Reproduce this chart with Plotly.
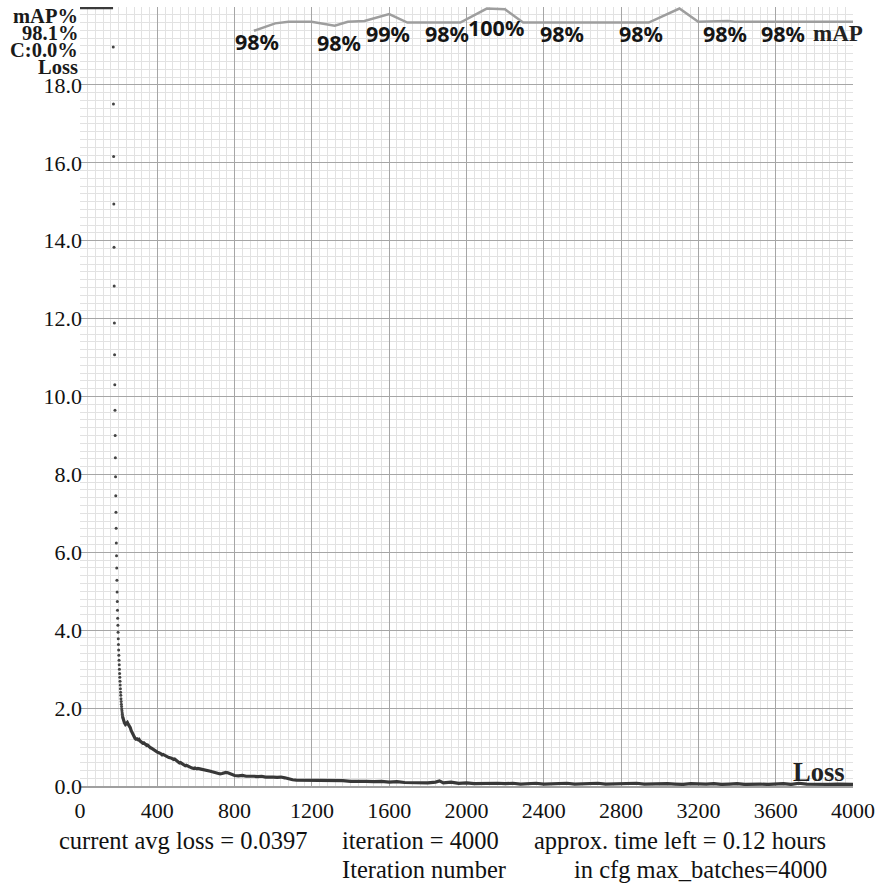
import plotly.graph_objects as go

# ---------------- data ----------------
x_tick_values = [0, 400, 800, 1200, 1600, 2000, 2400, 2800, 3200, 3600, 4000]
x_tick_labels = ["0", "400", "800", "1200", "1600", "2000", "2400", "2800", "3200", "3600", "4000"]
y_tick_values = [0, 2, 4, 6, 8, 10, 12, 14, 16, 18]
y_tick_labels = ["0.0", "2.0", "4.0", "6.0", "8.0", "10.0", "12.0", "14.0", "16.0", "18.0"]

# loss above the top of the chart (clipped at the top edge)
overflow_iters = [0, 171]
overflow_loss = [19.98, 19.98]

# one dot per iteration during the steep drop
dot_start_iter = 172
dot_loss = [18.97, 17.51, 16.16, 14.94, 13.83, 12.84, 11.89, 11.07, 10.30, 9.65,
            9.00, 8.43, 7.94, 7.45, 7.03, 6.62, 6.24, 5.91, 5.60, 5.28,
            4.98, 4.74, 4.51, 4.31, 4.13, 3.95, 3.78, 3.63, 3.49, 3.36,
            3.23, 3.11, 3.00, 2.89, 2.79, 2.69, 2.59, 2.50, 2.41, 2.33,
            2.24, 2.17, 2.10, 2.04, 1.98, 1.93, 1.88, 1.84, 1.80, 1.77]

tail_iters = [222, 226, 230, 235, 240, 245, 250, 255, 260, 265, 270, 275, 280, 285, 290, 295,
              300, 305, 310, 315, 320, 325, 330, 335, 340, 345, 350, 355, 360, 365, 370, 375,
              380, 385, 390, 395, 400, 405, 410, 415, 420, 425, 430, 440, 450, 455, 460, 470,
              475, 485, 490, 500, 505, 515, 520, 530, 535, 545, 550, 560, 565, 575, 580, 590,
              595, 605, 610, 620, 630, 635, 645, 650, 660, 665, 675, 680, 690, 695, 705, 710,
              720, 725, 735, 740, 750, 755, 765, 770, 780, 785, 795, 800,
              820, 840, 860, 880, 900, 920, 940, 960, 980, 1000, 1020, 1040, 1060, 1080, 1100,
              1120, 1140, 1160, 1180, 1200, 1240, 1280, 1320, 1360, 1400, 1440, 1480, 1520,
              1560, 1600, 1640, 1680, 1720, 1760, 1800, 1840, 1860, 1880, 1920, 1960, 2000,
              2040, 2080, 2120, 2160, 2200, 2240, 2280, 2320, 2360, 2400, 2440, 2480, 2520,
              2560, 2600, 2640, 2680, 2720, 2760, 2800, 2840, 2880, 2920, 2960, 3000, 3040,
              3080, 3120, 3160, 3200, 3240, 3280, 3320, 3360, 3400, 3440, 3480, 3520, 3560,
              3600, 3640, 3680, 3720, 3760, 3800, 3840, 3880, 3920, 3960, 4000]
tail_loss = [1.75, 1.68, 1.62, 1.58, 1.61, 1.63, 1.58, 1.55, 1.50, 1.42, 1.36, 1.30, 1.25, 1.22, 1.20, 1.21,
             1.19, 1.20, 1.16, 1.14, 1.12, 1.10, 1.11, 1.08, 1.06, 1.04, 1.05, 1.02, 1.00, 0.98, 0.97, 0.95,
             0.94, 0.93, 0.91, 0.88, 0.87, 0.86, 0.86, 0.84, 0.82, 0.80, 0.81, 0.78, 0.75, 0.73, 0.73, 0.72,
             0.70, 0.68, 0.69, 0.64, 0.63, 0.59, 0.60, 0.56, 0.55, 0.52, 0.53, 0.50, 0.49, 0.47, 0.46, 0.45,
             0.46, 0.44, 0.45, 0.44, 0.43, 0.42, 0.43, 0.41, 0.40, 0.39, 0.38, 0.37, 0.36, 0.35, 0.33, 0.32,
             0.31, 0.31, 0.32, 0.33, 0.35, 0.35, 0.34, 0.33, 0.30, 0.29, 0.28, 0.27,
             0.26, 0.27, 0.25, 0.26, 0.25, 0.24, 0.25, 0.23, 0.24, 0.23, 0.22, 0.23, 0.21, 0.18, 0.16,
             0.15, 0.15, 0.14, 0.15, 0.14, 0.13, 0.14, 0.13, 0.14, 0.12, 0.13, 0.12, 0.11,
             0.12, 0.10, 0.11, 0.09, 0.09, 0.07, 0.08, 0.10, 0.13, 0.08, 0.10, 0.07, 0.08,
             0.06, 0.07, 0.06, 0.07, 0.06, 0.07, 0.05, 0.06, 0.07, 0.05, 0.06, 0.05, 0.07,
             0.05, 0.06, 0.05, 0.07, 0.05, 0.06, 0.05, 0.06, 0.07, 0.05, 0.06, 0.05, 0.06,
             0.05, 0.04, 0.06, 0.05, 0.05, 0.06, 0.04, 0.05, 0.06, 0.04, 0.05, 0.05, 0.04,
             0.05, 0.06, 0.04, 0.07, 0.05, 0.04, 0.05, 0.04, 0.05, 0.04, 0.04]

# mAP (%) curve
map_iters = [900, 1010, 1079, 1198, 1318, 1386, 1472, 1600, 1694, 1968, 2105, 2199, 2293,
             2943, 3102, 3199, 3353, 3388, 4000]
map_values = [96.95, 97.9, 98.1, 98.1, 97.6, 98.1, 98.2, 99.1, 98.0, 98.0, 99.8, 99.7, 98.0,
              98.0, 99.8, 98.1, 98.2, 98.1, 98.1]
map_label_iters = [900, 1325, 1580, 1885, 2105, 2480, 2885, 3320, 3620]
map_label_texts = ["98%", "98%", "99%", "98%", "100%", "98%", "98%", "98%", "98%"]

header_texts = ["mAP%", "98.1%", "C:0.0%", "Loss"]
footer_line1 = ["current avg loss = 0.0397", "iteration = 4000", "approx. time left = 0.12 hours"]
footer_line2 = ["Iteration number", "in cfg max_batches=4000"]

# ---------------- styling / layout helpers ----------------
W, H = 882, 888
ML, MR, MT, MB = 80, 22, 7, 102
PW, PH = W - ML - MR, H - MT - MB


def px_x(px):
    return (px - ML) / PW


def px_y(py):
    return (H - MB - py) / PH


SERIF = "Liberation Serif, Times New Roman, serif"
SANS = "Noto Sans, Open Sans, sans-serif"

fig = go.Figure()

fig.add_trace(go.Scatter(x=overflow_iters, y=overflow_loss, mode="lines",
                         line=dict(color="#3a3a3a", width=3), hoverinfo="skip", showlegend=False))

dot_iters = [dot_start_iter + i for i in range(len(dot_loss))]
fig.add_trace(go.Scatter(x=dot_iters, y=dot_loss, mode="markers",
                         marker=dict(color="#444444", size=3), showlegend=False, name="Loss"))

fig.add_trace(go.Scatter(x=[dot_iters[-1]] + tail_iters, y=[dot_loss[-1]] + tail_loss, mode="lines",
                         line=dict(color="#383838", width=3.2), showlegend=False, name="Loss"))

fig.add_trace(go.Scatter(x=map_iters, y=map_values, mode="lines", yaxis="y2",
                         line=dict(color="#9e9e9e", width=2.5), showlegend=False, name="mAP"))

grid_major = "#a6a6a6"
grid_minor = "#e2e2e2"

fig.update_layout(
    width=W, height=H,
    margin=dict(l=ML, r=MR, t=MT, b=MB, pad=0),
    paper_bgcolor="white", plot_bgcolor="white",
    xaxis=dict(range=[0, 4000], tickvals=x_tick_values, ticktext=x_tick_labels,
               showgrid=True, gridcolor=grid_major, gridwidth=1, zeroline=False,
               showline=True, linecolor="#a0a0a0", linewidth=2, ticks="",
               minor=dict(dtick=40, showgrid=True, gridcolor=grid_minor, gridwidth=1, ticks=""),
               tickfont=dict(family=SERIF, size=22, color="#111111"), ticklabelstandoff=4,
               fixedrange=True),
    yaxis=dict(range=[0, 20], tickvals=y_tick_values, ticktext=y_tick_labels,
               showgrid=True, gridcolor=grid_major, gridwidth=1, zeroline=False,
               showline=False, ticks="",
               minor=dict(dtick=0.2, showgrid=True, gridcolor=grid_minor, gridwidth=1, ticks=""),
               tickfont=dict(family=SERIF, size=22, color="#111111"), ticklabelstandoff=-3,
               fixedrange=True),
    yaxis2=dict(range=[0, 100], overlaying="y", visible=False, fixedrange=True),
)

annotations = []

# mAP labels
map_label_centers = [41.7, 42.5, 34, 34, 27.5, 33.5, 33.5, 33.5, 33.5]
for it, txt, cy in zip(map_label_iters, map_label_texts, map_label_centers):
    annotations.append(dict(x=it, xref="x", y=px_y(cy), yref="paper", text=txt, showarrow=False,
                            xanchor="left", yanchor="middle", xshift=-21,
                            font=dict(family=SANS, size=21.5, color="#151515", weight="bold")))

# right-side series names
annotations.append(dict(x=px_x(818), xref="paper", y=px_y(33.5), yref="paper", text="mAP",
                        showarrow=False, xanchor="left", yanchor="middle",
                        font=dict(family=SERIF, size=23, color="#222222", weight="bold")))
annotations.append(dict(x=px_x(854), xref="paper", y=px_y(772), yref="paper", text="Loss",
                        showarrow=False, xanchor="right", yanchor="middle",
                        font=dict(family=SERIF, size=26.5, color="#222222", weight="bold")))

# header on the left
for txt, cy in zip(header_texts, [16, 33, 50, 67]):
    annotations.append(dict(x=px_x(80), xref="paper", y=px_y(cy), yref="paper", text=txt,
                            showarrow=False, xanchor="right", yanchor="middle",
                            font=dict(family=SERIF, size=20.5, color="#1a1a1a", weight="bold")))

# footer
for txt, lx in zip(footer_line1, [57, 342, 536]):
    annotations.append(dict(x=px_x(lx), xref="paper", y=px_y(841), yref="paper", text=txt,
                            showarrow=False, xanchor="left", yanchor="middle",
                            font=dict(family=SERIF, size=24.5, color="#111111")))
for txt, lx in zip(footer_line2, [342, 576]):
    annotations.append(dict(x=px_x(lx), xref="paper", y=px_y(869), yref="paper", text=txt,
                            showarrow=False, xanchor="left", yanchor="middle",
                            font=dict(family=SERIF, size=24.5, color="#111111")))

fig.update_layout(annotations=annotations)

fig.write_html("out.html",
               config={"displayModeBar": False},
               post_script="document.body.style.margin='0px';document.body.style.overflow='hidden';")
